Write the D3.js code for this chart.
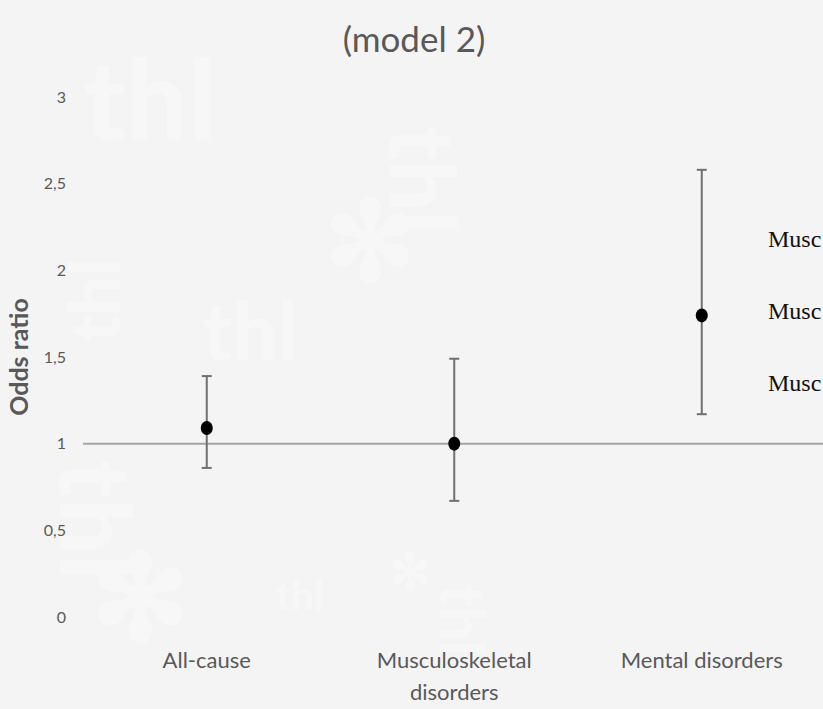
<!DOCTYPE html>
<html>
<head>
<meta charset="utf-8">
<script src="https://cdn.jsdelivr.net/npm/d3@7"></script>
<style>
  body { margin: 0; background: #f4f4f4; overflow: hidden; }
  svg { display: block; }
</style>
</head>
<body>
<div id="container"></div>
<script>
const w = 823;
const h = 709;

// data
const categories = ['All-cause', 'Musculoskeletal disorders', 'Mental disorders', ''];
const oddsRatio = [1.09, 1.0, 1.74];
const ciLow = [0.86, 0.67, 1.17];
const ciHigh = [1.39, 1.49, 2.58];
const yTicks = [0, 0.5, 1, 1.5, 2, 2.5, 3];
// legend entries, only their start is visible at the right edge
const legendLabels = ['Musc', 'Musc', 'Musc'];

const data = oddsRatio.map((v, i) => ({cat: categories[i], or: v, lo: ciLow[i], hi: ciHigh[i]}));

const svg = d3.select('#container')
  .append('svg')
  .attr('width', w)
  .attr('height', h)
  .attr('viewBox', [0, 0, w, h]);

svg.append('rect')
  .attr('width', w).attr('height', h)
  .attr('fill', '#f4f4f4');

// faint watermark
const marks = [
  {t: 'thl', x: 150, y: 140, s: 110, r: 0},
  {t: 'thl', x: 120, y: 300, s: 70, r: -90},
  {t: 'thl', x: 250, y: 360, s: 80, r: 0},
  {t: 'thl', x: 390, y: 180, s: 90, r: 90},
  {t: 'thl', x: 60, y: 520, s: 100, r: 90},
  {t: 'thl', x: 300, y: 610, s: 40, r: 0},
  {t: 'thl', x: 440, y: 620, s: 60, r: 90},
  {t: '✻', x: 140, y: 640, s: 120, r: 0},
  {t: '✻', x: 370, y: 280, s: 110, r: 0},
  {t: '✻', x: 410, y: 590, s: 50, r: 0}
];
svg.append('g')
  .selectAll('text')
  .data(marks)
  .join('text')
  .attr('transform', d => 'translate(' + d.x + ',' + d.y + ') rotate(' + d.r + ')')
  .attr('font-family', 'Lato, sans-serif')
  .attr('font-weight', 900)
  .attr('font-size', d => d.s)
  .attr('fill', '#f7f7f7')
  .attr('text-anchor', 'middle')
  .text(d => d.t);

const x = d3.scaleBand()
  .domain(categories)
  .range([83, 83 + 4 * 247.5]);

const y = d3.scaleLinear()
  .domain([0, 3])
  .range([617, 97]);

const fmt = d => String(d).replace('.', ',');

const yAxis = d3.axisLeft(y)
  .tickValues(yTicks)
  .tickFormat(fmt)
  .tickSize(0)
  .tickPadding(0);

svg.append('g')
  .attr('transform', 'translate(66,0)')
  .call(yAxis)
  .call(g => g.select('.domain').remove())
  .call(g => g.selectAll('text')
    .attr('font-family', 'Lato, sans-serif')
    .attr('font-size', 16)
    .attr('fill', '#595959'));

// reference line at 1
svg.append('line')
  .attr('x1', 83)
  .attr('x2', w)
  .attr('y1', y(1))
  .attr('y2', y(1))
  .attr('stroke', '#a6a6a6')
  .attr('stroke-width', 2);

// category labels
const catLabels = svg.append('g')
  .selectAll('text')
  .data(categories.slice(0, 3))
  .join('text')
  .attr('x', d => x(d) + x.bandwidth() / 2)
  .attr('y', 668)
  .attr('text-anchor', 'middle')
  .attr('font-family', 'Lato, sans-serif')
  .attr('font-size', 22)
  .attr('fill', '#595959');

catLabels.each(function(d) {
  const t = d3.select(this);
  const parts = d === 'Musculoskeletal disorders' ? ['Musculoskeletal', 'disorders'] : [d];
  parts.forEach((p, i) => {
    t.append('tspan')
      .attr('x', x(d) + x.bandwidth() / 2)
      .attr('dy', i === 0 ? 0 : 32)
      .text(p);
  });
});

// error bars
const bars = svg.append('g')
  .selectAll('g')
  .data(data)
  .join('g')
  .attr('transform', d => 'translate(' + (x(d.cat) + x.bandwidth() / 2) + ',0)');

bars.append('line')
  .attr('y1', d => y(d.lo))
  .attr('y2', d => y(d.hi))
  .attr('stroke', '#707070')
  .attr('stroke-width', 2);

bars.selectAll('.cap')
  .data(d => [d.lo, d.hi])
  .join('line')
  .attr('class', 'cap')
  .attr('x1', -5)
  .attr('x2', 5)
  .attr('y1', v => y(v))
  .attr('y2', v => y(v))
  .attr('stroke', '#707070')
  .attr('stroke-width', 2);

bars.append('ellipse')
  .attr('cy', d => y(d.or))
  .attr('rx', 6)
  .attr('ry', 7)
  .attr('fill', '#000');

// y axis title
svg.append('text')
  .attr('transform', 'translate(28,357) rotate(-90)')
  .attr('text-anchor', 'middle')
  .attr('font-family', 'Lato, sans-serif')
  .attr('font-weight', 'bold')
  .attr('font-size', 25)
  .attr('fill', '#595959')
  .text('Odds ratio');

// title
svg.append('text')
  .attr('x', 414)
  .attr('y', 52)
  .attr('text-anchor', 'middle')
  .attr('font-family', 'Lato, sans-serif')
  .attr('font-size', 35)
  .attr('fill', '#595959')
  .text('(model 2)');

// legend (cut off at the right edge)
svg.append('g')
  .selectAll('text')
  .data(legendLabels)
  .join('text')
  .attr('x', 768)
  .attr('y', (d, i) => 247 + i * 72)
  .attr('font-family', '"Liberation Serif", serif')
  .attr('font-size', 24)
  .attr('fill', '#111')
  .text(d => d);
</script>
</body>
</html>
